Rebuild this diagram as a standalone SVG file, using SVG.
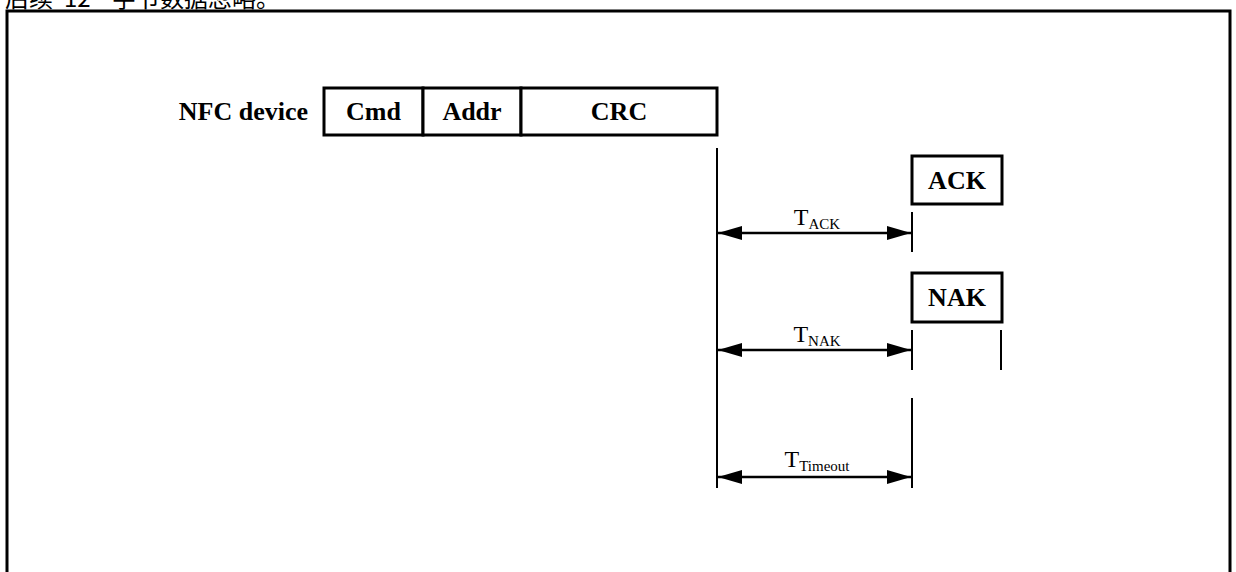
<svg xmlns="http://www.w3.org/2000/svg" width="1236" height="572" viewBox="0 0 1236 572">
<style>
.b{fill:#fff;stroke:#000;stroke-width:3}
.t{font-family:"Liberation Serif","Times New Roman",serif;font-weight:bold;font-size:26px;fill:#000}
.l{font-family:"Liberation Serif","Times New Roman",serif;font-size:24px;fill:#000}
.s{font-size:15px}
.ln{stroke:#000;stroke-width:2;fill:none}
.ar{stroke:#000;stroke-width:2.5;fill:none;marker-start:url(#ah);marker-end:url(#ah)}
</style>
<defs>
<marker id="ah" viewBox="0 0 24 14" refX="24" refY="7" markerWidth="24" markerHeight="14" markerUnits="userSpaceOnUse" orient="auto-start-reverse">
<path d="M0,0 L24,7 L0,14 Z" fill="#000"/>
</marker>
</defs>
<rect width="1236" height="572" fill="#fff"/>
<text y="7" font-family="'Noto Sans CJK SC',sans-serif" font-size="24" fill="#000"><tspan x="5">后续</tspan><tspan x="64">12</tspan><tspan x="112">字节数据忽略。</tspan></text>
<path d="M7,580 V11 H1230 V580" fill="none" stroke="#000" stroke-width="3"/>
<g id="nfc-label"><text class="t" x="308" y="120" text-anchor="end">NFC device</text></g>
<g id="cmd"><rect class="b" x="324" y="88" width="99" height="47"/><text class="t" x="373.5" y="120" text-anchor="middle">Cmd</text></g>
<g id="addr"><rect class="b" x="423" y="88" width="98" height="47"/><text class="t" x="472" y="120" text-anchor="middle">Addr</text></g>
<g id="crc"><rect class="b" x="521" y="88" width="196" height="47"/><text class="t" x="619" y="120" text-anchor="middle">CRC</text></g>
<g id="ack"><rect class="b" x="912" y="156" width="90" height="48"/><text class="t" x="957" y="189" text-anchor="middle">ACK</text></g>
<g id="nak"><rect class="b" x="912" y="273" width="90" height="49"/><text class="t" x="957" y="306" text-anchor="middle">NAK</text></g>
<g id="connectors">
<line class="ln" x1="717" y1="148" x2="717" y2="488"/>
<line class="ln" x1="912" y1="212" x2="912" y2="252"/>
<line class="ln" x1="912" y1="330" x2="912" y2="370"/>
<line class="ln" x1="1001" y1="330" x2="1001" y2="370"/>
<line class="ln" x1="912" y1="398" x2="912" y2="488"/>
<line class="ar" x1="718" y1="233" x2="911" y2="233"/>
<line class="ar" x1="718" y1="350" x2="911" y2="350"/>
<line class="ar" x1="718" y1="477" x2="911" y2="477"/>
</g>
<g id="t-ack"><text class="l" x="817" y="225" text-anchor="middle">T<tspan class="s" dy="4">ACK</tspan></text></g>
<g id="t-nak"><text class="l" x="817" y="342" text-anchor="middle">T<tspan class="s" dy="4">NAK</tspan></text></g>
<g id="t-timeout"><text class="l" x="817" y="467" text-anchor="middle">T<tspan class="s" dy="4">Timeout</tspan></text></g>
</svg>
